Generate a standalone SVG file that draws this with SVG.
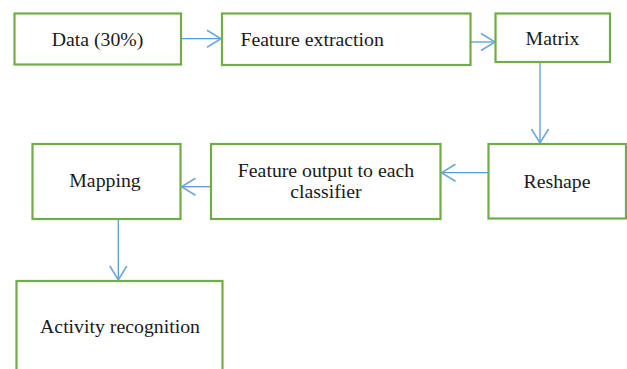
<svg xmlns="http://www.w3.org/2000/svg" width="627" height="369" viewBox="0 0 627 369">
<style>
.box{fill:#fff;stroke:#70AD47;stroke-width:2.2}
.lbl{font-family:"Liberation Serif","Times New Roman",serif;font-size:19.8px;fill:#1a1a1a;text-anchor:middle}
.con{stroke:#5B9BD5;stroke-width:1.3;fill:none}
</style>
<defs>
<marker id="arr" markerUnits="userSpaceOnUse" markerWidth="18" markerHeight="20" viewBox="0 0 18 20" refX="15" refY="10" orient="auto">
<path d="M1,1.5 L15,10 L1,18.5" fill="none" stroke="#6FA8DC" stroke-width="1.6"/>
</marker>
</defs>
<rect width="627" height="369" fill="#fff"/>
<g id="connectors">
<line class="con" x1="181" y1="38.7" x2="221" y2="38.7" marker-end="url(#arr)"/>
<line class="con" x1="471" y1="42" x2="495" y2="42" marker-end="url(#arr)"/>
<line class="con" x1="540" y1="62" x2="540" y2="143" marker-end="url(#arr)"/>
<line class="con" x1="488" y1="172.7" x2="441.5" y2="172.7" marker-end="url(#arr)"/>
<line class="con" x1="210" y1="186.7" x2="181.5" y2="186.7" marker-end="url(#arr)"/>
<line class="con" x1="118.3" y1="219" x2="118.3" y2="280" marker-end="url(#arr)"/>
</g>
<g id="data">
<rect class="box" x="14.5" y="13.5" width="166.5" height="51"/>
<text class="lbl" x="97.5" y="46">Data (30%)</text>
</g>
<g id="feature-extraction">
<rect class="box" x="222" y="13.5" width="248.5" height="51.5"/>
<text class="lbl" x="240.5" y="46" style="text-anchor:start">Feature extraction</text>
</g>
<g id="matrix">
<rect class="box" x="495.5" y="13.5" width="114.5" height="48.5"/>
<text class="lbl" x="552.5" y="45">Matrix</text>
</g>
<g id="reshape">
<rect class="box" x="488.5" y="144" width="137.5" height="74.5"/>
<text class="lbl" x="557" y="188">Reshape</text>
</g>
<g id="feature-output">
<rect class="box" x="211" y="144" width="229.5" height="75"/>
<text class="lbl" x="326" y="177">Feature output to each</text>
<text class="lbl" x="326" y="198">classifier</text>
</g>
<g id="mapping">
<rect class="box" x="32.5" y="144" width="148" height="75"/>
<text class="lbl" x="105" y="187">Mapping</text>
</g>
<g id="activity-recognition">
<rect class="box" x="16.5" y="281" width="206" height="100"/>
<text class="lbl" x="120" y="333">Activity recognition</text>
</g>
</svg>
